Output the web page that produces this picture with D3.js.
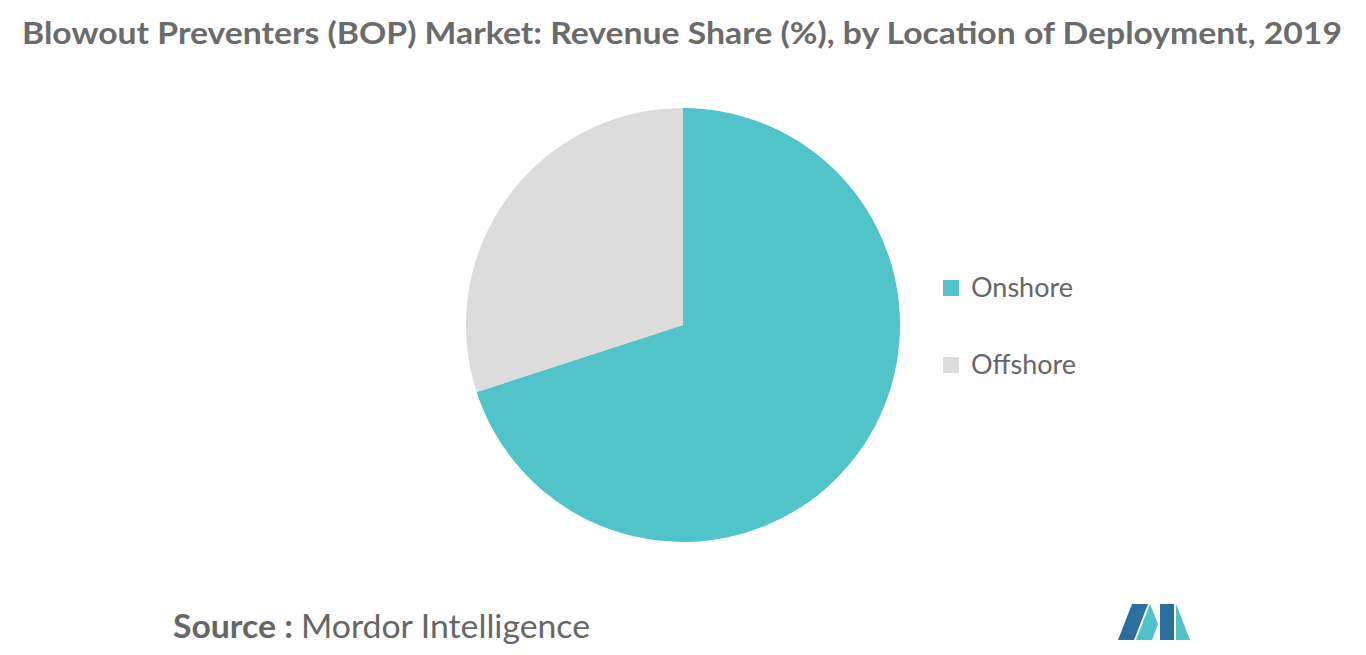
<!DOCTYPE html>
<html><head><meta charset="utf-8">
<script src="https://cdn.jsdelivr.net/npm/d3@7"></script>
<style>body{margin:0;background:#fff;font-family:Lato,"Open Sans",sans-serif}</style>
</head><body><svg id="c" width="1366" height="655"></svg>
<script>
const categories = ["Onshore", "Offshore"];
const values = [70, 30];
const colors = ["#50C4C9", "#DCDCDC"];

const svg = d3.select("#c");
svg.append("text").attr("x", 22).attr("y", 44).attr("font-size", 30).attr("font-weight", 700)
  .attr("fill", "#6b6b6b").attr("textLength", 1320).attr("lengthAdjust", "spacingAndGlyphs")
  .text("Blowout Preventers (BOP) Market: Revenue Share (%), by Location of Deployment, 2019");

const pie = d3.pie().sort(null).value(d => d)(values);
const arc = d3.arc().innerRadius(0).outerRadius(217);
svg.append("g").attr("transform", "translate(683,325)")
  .selectAll("path").data(pie).join("path")
  .attr("d", arc).attr("fill", (d, i) => colors[i]);

const leg = svg.append("g").selectAll("g").data(categories).join("g")
  .attr("transform", (d, i) => `translate(943,${288 + i * 77})`);
leg.append("rect").attr("x", 0).attr("y", -8).attr("width", 16).attr("height", 16).attr("fill", (d, i) => colors[i]);
leg.append("text").attr("x", 28).attr("y", 9).attr("font-size", 27).attr("fill", "#666").text(d => d);

const src = svg.append("text").attr("x", 173).attr("y", 638).attr("font-size", 32).attr("fill", "#666")
  .attr("textLength", 417).attr("lengthAdjust", "spacingAndGlyphs");
src.append("tspan").attr("font-weight", 700).text("Source : ");
src.append("tspan").text("Mordor Intelligence");

const lg = svg.append("g").attr("transform", "translate(1118,604)");
lg.append("path").attr("d", "M0,36 L14,0 L30,0 L16,36 Z").attr("fill", "#2B6F9E");
lg.append("path").attr("d", "M18,36 L32,0 L40,20 L34,36 Z").attr("fill", "#4FC1C8");
lg.append("path").attr("d", "M42,36 L42,0 L56,0 L56,36 Z").attr("fill", "#2B6F9E");
lg.append("path").attr("d", "M58,36 L58,0 L72,36 Z").attr("fill", "#4FC1C8");
</script></body></html>
